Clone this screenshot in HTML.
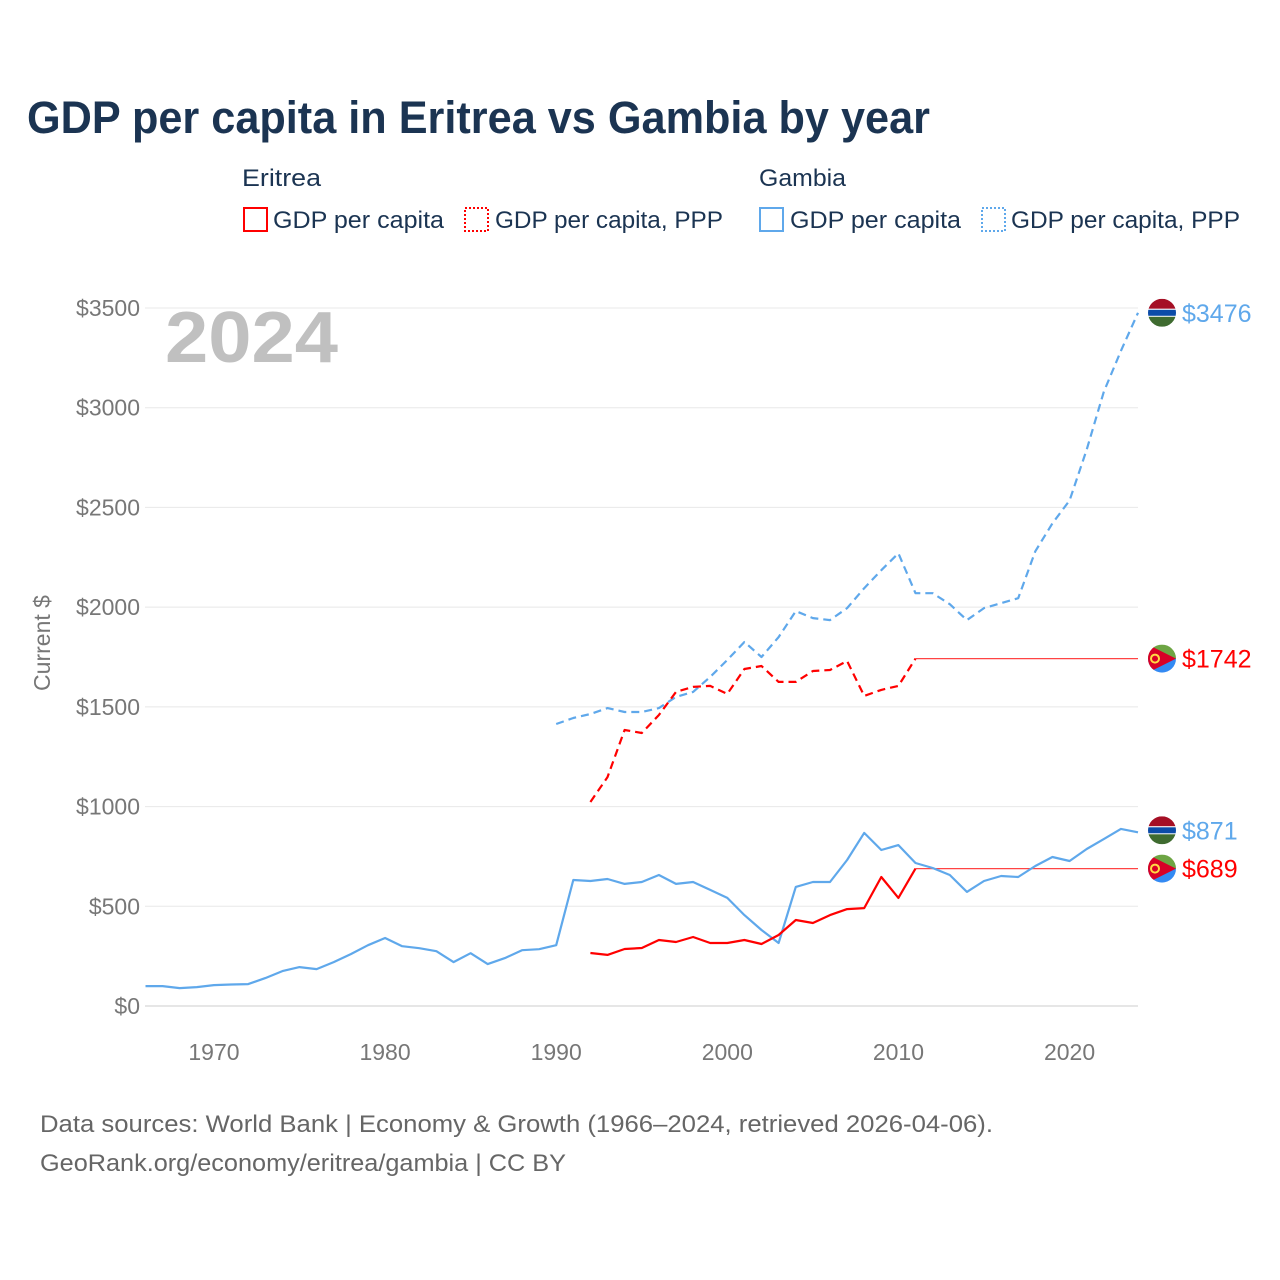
<!DOCTYPE html>
<html><head><meta charset="utf-8"><style>
body{margin:0;background:#fff;}
svg{display:block;font-family:"Liberation Sans",sans-serif;}
</style></head><body>
<svg id="chart" width="1280" height="1280" viewBox="0 0 1280 1280" xmlns="http://www.w3.org/2000/svg">
<text x="27" y="133" font-size="45" font-weight="bold" fill="#1b3452" textLength="903" lengthAdjust="spacingAndGlyphs">GDP per capita in Eritrea vs Gambia by year</text>
<g fill="#1b3452" font-size="24">
<text x="242" y="186" textLength="79" lengthAdjust="spacingAndGlyphs">Eritrea</text>
<text x="759" y="186" textLength="87" lengthAdjust="spacingAndGlyphs">Gambia</text>
<g><rect x="244" y="208" width="23" height="23" fill="none" stroke="#ff0000" stroke-width="2"/><text x="273" y="228" textLength="171" lengthAdjust="spacingAndGlyphs">GDP per capita</text></g>
<g><rect x="465" y="208" width="23" height="23" fill="none" stroke="#ff0000" stroke-width="2" stroke-dasharray="2,2"/><text x="495" y="228" textLength="228" lengthAdjust="spacingAndGlyphs">GDP per capita, PPP</text></g>
<g><rect x="760" y="208" width="23" height="23" fill="none" stroke="#5fa8eb" stroke-width="2"/><text x="790" y="228" textLength="171" lengthAdjust="spacingAndGlyphs">GDP per capita</text></g>
<g><rect x="982" y="208" width="23" height="23" fill="none" stroke="#5fa8eb" stroke-width="2" stroke-dasharray="2,2"/><text x="1011" y="228" textLength="229" lengthAdjust="spacingAndGlyphs">GDP per capita, PPP</text></g>
</g>
<g id="grid"></g>
<text x="165" y="362" font-size="72" font-weight="bold" fill="#c0c0c0" textLength="173" lengthAdjust="spacingAndGlyphs">2024</text>
<text transform="translate(50,643) rotate(-90)" text-anchor="middle" font-size="23" fill="#777">Current $</text>
<g id="series"></g>
<g id="labels"></g>
<g font-size="24" fill="#666">
<text x="40" y="1132" textLength="953" lengthAdjust="spacingAndGlyphs">Data sources: World Bank | Economy &amp; Growth (1966–2024, retrieved 2026-04-06).</text>
<text x="40" y="1171" textLength="526" lengthAdjust="spacingAndGlyphs">GeoRank.org/economy/eritrea/gambia | CC BY</text>
</g>
</svg>
<script>
const yTicks=[0,500,1000,1500,2000,2500,3000,3500];
const xTicks=[1970,1980,1990,2000,2010,2020];
const gmbYears0=1966;
const gmbGdp=[100,100,90,95,105,108,110,140,175,195,185,220,260,305,341,300,290,275,220,265,210,240,280,285,305,632,627,637,612,622,657,612,622,582,542,456,381,316,597,622,622,732,868,782,807,717,692,657,572,627,652,647,702,747,727,787,837,888,871];
const gmbPppYear0=1990;
const gmbPpp=[1414,1444,1464,1494,1474,1474,1494,1550,1575,1650,1735,1825,1750,1850,1980,1945,1935,1995,2095,2185,2270,2070,2070,2015,1935,1995,2020,2045,2280,2420,2535,2790,3080,3285,3476];
const eriYear0=1992;
const eriGdp=[266,256,286,291,331,321,346,316,316,331,311,356,431,416,456,486,491,647,542,689];
const eriPpp=[1023,1148,1384,1369,1459,1575,1600,1605,1565,1690,1705,1625,1625,1680,1685,1730,1555,1585,1605,1742];
const lastYear=2024;
const NS="http://www.w3.org/2000/svg";
const X=y=>145.5+(y-1966)*(1138-145.5)/(2024-1966);
const Y=v=>1006-v*(1006-308)/3500;
function mk(tag,attrs,parent){const e=document.createElementNS(NS,tag);for(const k in attrs)e.setAttribute(k,attrs[k]);parent.appendChild(e);return e;}
const grid=document.getElementById('grid');
yTicks.forEach(t=>{
 const l=mk('line',{x1:145,x2:1138,y1:Y(t),y2:Y(t),stroke:t===0?'#e6e6e6':'#e8e8e8','stroke-width':t===0?2:1},grid);
 
 
 const tx=mk('text',{x:140,y:Y(t)+8,'text-anchor':'end','font-size':23,fill:'#777'},grid);
 tx.textContent='$'+t;
 
 
});
xTicks.forEach(t=>{
 const tx=mk('text',{x:X(t),y:1060,'text-anchor':'middle','font-size':23,fill:'#777'},grid);
 tx.textContent=t;
 
 
});
const series=document.getElementById('series');
function line(vals,y0,color,dash,name){
 const pts=vals.map((v,i)=>X(y0+i).toFixed(1)+','+Y(v).toFixed(1)).join(' ');
 const p=mk('polyline',{points:pts,fill:'none',stroke:color,'stroke-width':2.2,'stroke-dasharray':dash,'stroke-linejoin':'round'},series);
 
 
 return p;
}
function ext(v,y0,color,name){
 const last=y0+v.length-1;
 const p=mk('line',{x1:X(last),x2:X(lastYear),y1:Y(v[v.length-1]),y2:Y(v[v.length-1]),stroke:color,'stroke-width':1.2},series);
 
 
}
ext(eriGdp,eriYear0,'#ff4444','eritrea-gdp-extension');
ext(eriPpp,eriYear0,'#ff4444','eritrea-ppp-extension');
line(gmbGdp,gmbYears0,'#5fa8eb','none','gambia-gdp-line');
line(gmbPpp,gmbPppYear0,'#5fa8eb','8,5','gambia-ppp-line');
line(eriGdp,eriYear0,'#ff0000','none','eritrea-gdp-line');
line(eriPpp,eriYear0,'#ff0000','8,5','eritrea-ppp-line');
const labels=document.getElementById('labels');
function flag(kind,cy,val,color,name){
 const g=mk('g',{},labels);
 
 
 const cx=1162,r=14;
 const cid='c'+name;
 const cp=mk('clipPath',{id:cid},g);mk('ellipse',{cx:cx,cy:cy,rx:r,ry:r},cp);
 const f=mk('g',{'clip-path':'url(#'+cid+')'},g);
 if(kind==='gmb'){
  mk('rect',{x:cx-r,y:cy-r,width:2*r,height:10,fill:'#a50f25'},f);
  mk('rect',{x:cx-r,y:cy-4,width:2*r,height:8,fill:'#fff'},f);
  mk('rect',{x:cx-r,y:cy-3,width:2*r,height:6,fill:'#0c4ca8'},f);
  mk('rect',{x:cx-r,y:cy+4,width:2*r,height:10,fill:'#3f6b30'},f);
 } else {
  mk('rect',{x:cx-r,y:cy-r,width:2*r,height:r,fill:'#6da544'},f);
  mk('rect',{x:cx-r,y:cy,width:2*r,height:r,fill:'#338af3'},f);
  mk('polygon',{points:(cx-r)+','+(cy-r)+' '+(cx+r)+','+cy+' '+(cx-r)+','+(cy+r),fill:'#d80027'},f);
  mk('circle',{cx:cx-7,cy:cy,r:4,fill:'none',stroke:'#ffda44','stroke-width':2},f);
 }
 const t=mk('text',{x:1182,y:cy+9,'font-size':25,fill:color},g);
 t.textContent='$'+val;
}
flag('gmb',Y(gmbPpp[gmbPpp.length-1]),gmbPpp[gmbPpp.length-1],'#5fa8eb','label-gambia-ppp');
flag('eri',Y(eriPpp[eriPpp.length-1]),eriPpp[eriPpp.length-1],'#ff0000','label-eritrea-ppp');
flag('gmb',Y(gmbGdp[gmbGdp.length-1])-2,gmbGdp[gmbGdp.length-1],'#5fa8eb','label-gambia-gdp');
flag('eri',Y(eriGdp[eriGdp.length-1]),eriGdp[eriGdp.length-1],'#ff0000','label-eritrea-gdp');
</script>
</body></html>
